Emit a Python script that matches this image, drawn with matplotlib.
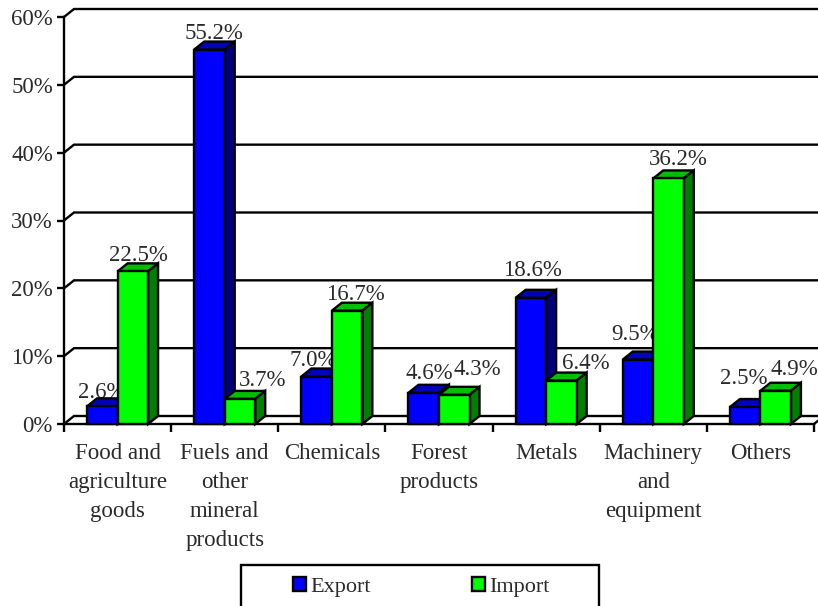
import matplotlib
matplotlib.use("Agg")
import matplotlib.pyplot as plt
from matplotlib.patches import Patch, Rectangle

plt.rcParams['font.family'] = ['Liberation Serif', 'DejaVu Serif']

categories = ["Food and\nagriculture\ngoods", "Fuels and\nother\nmineral\nproducts", "Chemicals",
              "Forest\nproducts", "Metals", "Machinery\nand\nequipment", "Others"]
export_values = [2.6, 55.2, 7.0, 4.6, 18.6, 9.5, 2.5]
import_values = [22.5, 3.7, 16.7, 4.3, 6.4, 36.2, 4.9]
y_ticks = [0, 10, 20, 30, 40, 50, 60]

# label offsets from the bar's top centre, in pixels (layout only)
export_off = [(-1, 14), (5, 16), (-3, 16), (6, 19), (2, 27), (-3, 25), (-1, 29)]
import_off = [(6, 16), (23, 18), (8, 16), (23, 25), (24, 17), (10, 19), (19, 21)]

W, H = 818, 606
fig = plt.figure(figsize=(W / 100, H / 100), dpi=100, facecolor='white')
ax = fig.add_axes([64 / W, 1 - 424 / H, 750 / W, 407 / H])
ax.set_xlim(0, 7)
ax.set_ylim(0, 60)
ax.patch.set_visible(False)

LW = 1.7
FS = 16.5
TXT = '#2a2a2a'
DX, DY = 10 / 107.14, 8 / 6.783
BW = 30.5 / 107.14

for s in ('top', 'right'):
    ax.spines[s].set_visible(False)
for s in ('left', 'bottom'):
    ax.spines[s].set_linewidth(LW)
    ax.spines[s].set_zorder(3)

# walls
for v in y_ticks:
    ax.plot([0, DX, 7 + DX], [v, v + DY, v + DY], color='black', lw=LW, clip_on=False, zorder=1,
            solid_joinstyle='miter')
ax.plot([7, 7 + DX], [0, DY], color='black', lw=LW, clip_on=False, zorder=1)


def bar3d(x, v, front, top, side, z):
    ax.bar(x, v, BW, color=front, edgecolor='black', linewidth=LW, clip_on=False, zorder=z + 0.2)
    l, r = x - BW / 2, x + BW / 2
    ax.fill([l, l + DX, r + DX, r], [v, v + DY, v + DY, v], facecolor=top, edgecolor='black',
            linewidth=LW, clip_on=False, zorder=z + 0.1)
    ax.fill([r, r + DX, r + DX, r], [0, DY, v + DY, v], facecolor=side, edgecolor='black',
            linewidth=LW, clip_on=False, zorder=z + 0.1)


def label(x, v, off, text):
    ax.annotate(text, (x, v), xytext=(off[0] * 0.72, off[1] * 0.72), textcoords='offset points',
                ha='center', va='center', fontsize=FS, color=TXT, zorder=2, annotation_clip=False)


for i in range(len(categories)):
    xc = i + 0.5
    bar3d(xc - BW / 2, export_values[i], '#0000FF', '#0000BF', '#00007F', 4 + 2 * i)
    bar3d(xc + BW / 2, import_values[i], '#00FF00', '#00BF00', '#007F00', 5 + 2 * i)
    label(xc - BW / 2, export_values[i], export_off[i], f"{export_values[i]:.1f}%")
    label(xc + BW / 2, import_values[i], import_off[i], f"{import_values[i]:.1f}%")

ax.set_yticks(y_ticks)
ax.set_yticklabels([f"{v}%" for v in y_ticks], fontsize=FS, color=TXT)
ax.tick_params(axis='y', length=5, width=LW, pad=3)
ax.set_xticks(range(8))
ax.set_xticklabels([])
ax.tick_params(axis='x', which='major', length=6, width=LW)
ax.set_xticks([i + 0.5 for i in range(7)], minor=True)
ax.set_xticklabels(categories, minor=True, fontsize=FS, color=TXT, linespacing=1.5)
ax.tick_params(axis='x', which='minor', length=0, pad=13.5)

# legend box runs off the bottom of the figure
fig.add_artist(Rectangle((241 / W, -0.02), 358 / W, 0.02 + 1 - 565 / H, transform=fig.transFigure,
                         facecolor='white', edgecolor='black', linewidth=LW))
handles = [Patch(facecolor='#0000FF', edgecolor='black', linewidth=LW, label='Export'),
           Patch(facecolor='#00FF00', edgecolor='black', linewidth=LW, label='Import')]
leg = fig.legend(handles=handles, ncol=2, loc='center', bbox_to_anchor=(421 / W, 1 - 587 / H), frameon=False,
                 fontsize=16, handlelength=0.58, handleheight=0.58, handletextpad=0.2,
                 columnspacing=4.55, labelcolor=TXT)

fig.savefig('out.png', dpi=100)
